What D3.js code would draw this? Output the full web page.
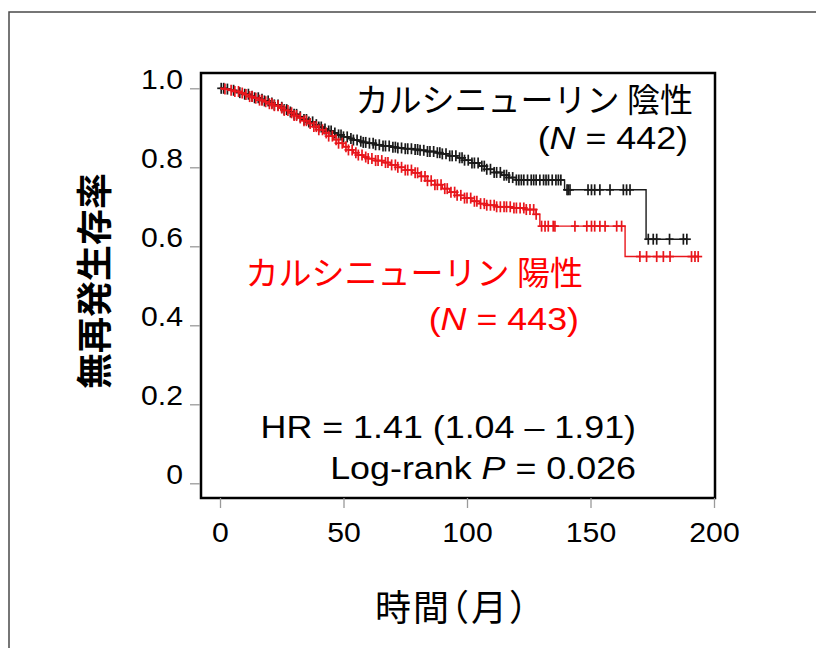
<!DOCTYPE html>
<html>
<head>
<meta charset="utf-8">
<script src="https://cdn.jsdelivr.net/npm/d3@7"></script>
<style>
  html, body { margin: 0; padding: 0; background: #fff; }
  svg { display: block; }
  .halt { font-feature-settings: "halt" 1; }
</style>
</head>
<body>
<svg id="chart" width="816" height="648"></svg>
<script>
// ---------------- data ----------------
const xTickValues = [0, 50, 100, 150, 200];
const xTickLabels = ["0", "50", "100", "150", "200"];
const yTickValues = [0, 0.2, 0.4, 0.6, 0.8, 1.0];
const yTickLabels = ["0", "0.2", "0.4", "0.6", "0.8", "1.0"];

// Calcineurin negative (black)
const negTimes = [0,2,4,6,8,10,12,14,16,18,20,22,24,26,28,30,32,34,36,38,40,42,44,46,48,50,52,54,56,58,60,63,66,69,72,75,78,81,84,87,90,93,96,99,102,105,108,111,114,117,120,139.5,172.5];
const negSurv  = [1.000,0.998,0.995,0.992,0.989,0.985,0.980,0.976,0.972,0.968,0.963,0.958,0.952,0.946,0.940,0.934,0.928,0.921,0.915,0.908,0.902,0.897,0.892,0.887,0.882,0.877,0.873,0.869,0.866,0.863,0.861,0.857,0.854,0.851,0.849,0.847,0.845,0.843,0.840,0.837,0.834,0.829,0.824,0.818,0.811,0.803,0.795,0.787,0.780,0.774,0.768,0.743,0.618];
const negCensor = [0.5,1.5,3,5.5,8,10,11.5,13,14,15.5,17,18,19.5,21,22,23.5,25,26,27,28.5,30,31,32.5,34,35,36,37.5,39,40,41,42.5,44,45,46.5,48,49,50,51.5,53,54,55.5,57,58,59,60.5,62,63,64.5,66,67,68.5,70,71,72,73.5,75,76,77.5,79,80,81,82.5,84,85,86.5,88,89,90,91.5,93,94,95.5,97,98,99,100.5,102,103,104.5,106,107,108,109.5,111,112,113.5,115,116,117,118.5,120,121,122,123,124.5,126,127,128,129.5,131,132,133,134.5,136,137,138,140.5,141,141.7,149,150.4,151.7,153.8,157.9,163.3,164.6,166,173.4,175.4,176.8,182,187.6,189];

// Calcineurin positive (red)
const posTimes = [0,2,4,6,8,10,12,14,16,18,20,22,24,26,28,30,32,34,36,38,40,42,44,46,48,50,52,54,56,58,60,63,66,69,72,75,78,81,84,87,90,93,96,99,102,105,108,112,118,124,128,129.5,164];
const posSurv  = [1.000,0.998,0.995,0.992,0.988,0.984,0.979,0.975,0.970,0.966,0.961,0.956,0.950,0.944,0.938,0.931,0.925,0.918,0.911,0.903,0.895,0.887,0.879,0.870,0.861,0.852,0.844,0.837,0.831,0.826,0.822,0.817,0.812,0.806,0.800,0.793,0.786,0.777,0.766,0.756,0.746,0.737,0.729,0.722,0.714,0.708,0.704,0.700,0.697,0.693,0.681,0.651,0.574];
const posCensor = [2,4.5,6,7.5,9,10.5,12,13,14.5,16,17,18.5,20,21,22,23.5,25,26,27.5,29,30,31,32.5,34,35,36.5,38,39,40,41.5,43,44,45.5,47,48,49.5,51,52,53.5,55,56,57.5,59,60,61.5,63,64,65.5,67,68,69.5,71,72,73.5,75,76,77.5,79,80,81.5,83,84,85.5,87,88,89.5,91,92,93.5,95,96,97.5,99,100,101.5,103,104,105.5,107,108,109.5,111,112,113.5,115,116,117.5,119,120,121.5,123,124,125.5,127,128,130.2,131.6,132.9,134.9,135.6,143.7,148.5,150.4,151.7,153.8,155.9,160.6,162.6,170,172.7,176.8,179.5,182.2,190.9,192.3,193.6];

const negLabel = "カルシニューリン 陰性";
const posLabel = "カルシニューリン 陽性";
const negN = "442";
const posN = "443";
const hrText = "HR = 1.41 (1.04 – 1.91)";
const pText = "0.026";
const yTitle = "無再発生存率";
const xTitle = "時間（月）";

// ---------------- layout ----------------
const svg = d3.select("#chart");
const LATIN = "'Liberation Sans', Arial, Helvetica, sans-serif";
const CJK = "'Noto Sans CJK JP', 'Noto Sans CJK SC', sans-serif";
const SX = 1.12; // horizontal stretch of Latin text in the reference
const RED = "#e8161c";
const BLACK = "#1a1a1a";

const box = { left: 201, top: 73, right: 715, bottom: 498 };
const x = d3.scaleLinear().domain([0, 200]).range([220, 714]);
const y = d3.scaleLinear().domain([0, 1]).range([483.3, 88.3]);

// outer frame
svg.append("rect")
  .attr("x", 9).attr("y", 12).attr("width", 900).attr("height", 700)
  .attr("fill", "none").attr("stroke", "#4a4a4a").attr("stroke-width", 1.5);

// plot box
svg.append("rect")
  .attr("x", box.left).attr("y", box.top)
  .attr("width", box.right - box.left).attr("height", box.bottom - box.top)
  .attr("fill", "#fff").attr("stroke", "#000").attr("stroke-width", 2.5);

// axes
const yAxis = d3.axisLeft(y).tickValues(yTickValues)
  .tickFormat((d, i) => yTickLabels[i]).tickSize(10).tickPadding(0);
const gy = svg.append("g").attr("transform", `translate(${box.left - 1},0)`).call(yAxis);
gy.select(".domain").remove();
gy.selectAll(".tick line").attr("stroke", "#9a9a9a").attr("stroke-width", 1.3);
gy.selectAll(".tick text")
  .attr("font-family", LATIN).attr("font-size", 27).attr("fill", "#000")
  .attr("dy", 0).attr("x", -17 / SX).attr("transform", `scale(${SX},1)`);

const xAxis = d3.axisBottom(x).tickValues(xTickValues)
  .tickFormat((d, i) => xTickLabels[i]).tickSize(10).tickPadding(0);
const gx = svg.append("g").attr("transform", `translate(0,${box.bottom})`).call(xAxis);
gx.select(".domain").remove();
gx.selectAll(".tick line").attr("stroke", "#9a9a9a").attr("stroke-width", 1.3);
gx.selectAll(".tick text")
  .attr("font-family", LATIN).attr("font-size", 27).attr("fill", "#000")
  .attr("dy", 0).attr("y", 44).attr("transform", `scale(${SX},1)`);

// ---------------- KM curves ----------------
function drawSeries(times, surv, censor, color) {
  const endT = d3.max(censor);
  const pts = times.map((t, i) => [t, surv[i]]);
  pts.push([endT, surv[surv.length - 1]]);
  const line = d3.line().x(d => x(d[0])).y(d => y(d[1])).curve(d3.curveStepAfter);
  svg.append("path").datum(pts)
    .attr("d", line).attr("fill", "none")
    .attr("stroke", color).attr("stroke-width", 1.4);
  const survAt = t => {
    const i = d3.bisectRight(times, t) - 1;
    return surv[Math.max(0, i)];
  };
  const g = svg.append("g").attr("stroke", color).attr("stroke-width", 1.7);
  censor.forEach(t => {
    const cx = x(t), cy = y(survAt(t));
    g.append("line").attr("x1", cx).attr("x2", cx).attr("y1", cy - 5.5).attr("y2", cy + 5.5);
    g.append("line").attr("x1", cx - 4).attr("x2", cx + 4).attr("y1", cy).attr("y2", cy);
  });
}
drawSeries(negTimes, negSurv, negCensor, BLACK);
drawSeries(posTimes, posSurv, posCensor, RED);

// ---------------- texts ----------------
function latin(xp, yp, anchor, size, fill, parts) {
  const t = svg.append("text")
    .attr("transform", `translate(${xp},${yp}) scale(${SX},1)`)
    .attr("text-anchor", anchor).attr("font-size", size)
    .attr("fill", fill).attr("font-family", LATIN);
  parts.forEach(p => {
    const s = t.append("tspan").text(p.t);
    if (p.i) s.attr("font-style", "italic");
  });
  return t;
}

// negative label
svg.append("text").attr("x", 693).attr("y", 112)
  .attr("text-anchor", "end").attr("font-size", 33).attr("font-family", CJK)
  .attr("fill", "#000").text(negLabel);
latin(688, 149, "end", 32, "#000", [{t: "("}, {t: "N", i: true}, {t: " = " + negN + ")"}]);

// positive label
svg.append("text").attr("x", 583).attr("y", 285)
  .attr("text-anchor", "end").attr("font-size", 33).attr("font-family", CJK)
  .attr("fill", "#ff0000").text(posLabel);
latin(579, 330, "end", 32, "#ff0000", [{t: "("}, {t: "N", i: true}, {t: " = " + posN + ")"}]);

// statistics
latin(636, 438, "end", 32, "#000", [{t: hrText}]);
latin(636, 479, "end", 32, "#000", [{t: "Log-rank "}, {t: "P", i: true}, {t: " = " + pText}]);

// axis titles
svg.append("text")
  .attr("transform", "translate(92,281) rotate(-90)")
  .attr("text-anchor", "middle").attr("dominant-baseline", "central")
  .attr("font-size", 36).attr("font-weight", 700).attr("font-family", CJK)
  .attr("fill", "#000").text(yTitle);

svg.append("text")
  .attr("class", "halt")
  .attr("x", 375).attr("y", 605)
  .attr("text-anchor", "start").attr("dominant-baseline", "central")
  .attr("font-size", 36).attr("letter-spacing", 2).attr("font-family", CJK)
  .attr("fill", "#000").text(xTitle);
</script>
</body>
</html>
